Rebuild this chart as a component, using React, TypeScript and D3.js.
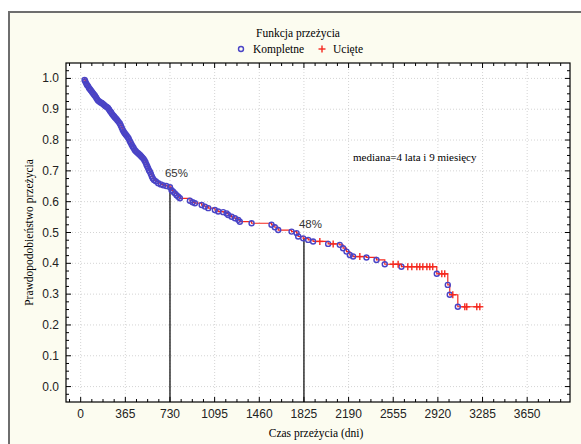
import * as d3 from 'd3'

// Kaplan-Meier estimate
const startDay = 28
const eventDays = [
  32, 38, 45, 52, 60, 68, 76, 84, 93, 102, 110, 118, 127, 135, 142, 152, 163, 172, 182, 192,
  203, 213, 223, 232, 240, 248, 256, 264, 272, 280, 290, 300, 310, 320, 328, 336, 344, 352, 360, 368,
  376, 385, 393, 401, 409, 417, 425, 433, 442, 451, 460, 469, 478, 487, 496, 505, 514, 522, 530, 537,
  544, 551, 558, 566, 574, 582, 590, 600, 615, 634, 655, 675, 700, 730, 743, 756, 770, 784, 798, 811,
  893, 915, 934, 989, 1016, 1043, 1097, 1124, 1165, 1193, 1206, 1234, 1261, 1288, 1301, 1397, 1560, 1587, 1615, 1724,
  1765, 1778, 1819, 1860, 1900, 2023, 2118, 2145, 2173, 2200, 2227, 2336, 2418, 2486, 2622, 2911, 3001, 3017, 3083,
]
const eventSurv = [
  0.995, 0.99, 0.984, 0.979, 0.975, 0.969, 0.965, 0.961, 0.956, 0.951, 0.947, 0.943, 0.937, 0.932, 0.928, 0.925, 0.922, 0.92, 0.917, 0.914,
  0.91, 0.907, 0.904, 0.899, 0.894, 0.89, 0.885, 0.881, 0.877, 0.873, 0.869, 0.864, 0.859, 0.854, 0.847, 0.84, 0.833, 0.827, 0.822, 0.818,
  0.814, 0.809, 0.804, 0.797, 0.791, 0.785, 0.779, 0.774, 0.768, 0.764, 0.76, 0.757, 0.754, 0.751, 0.747, 0.743, 0.739, 0.734, 0.728, 0.721,
  0.715, 0.709, 0.702, 0.697, 0.69, 0.682, 0.675, 0.67, 0.666, 0.66, 0.656, 0.653, 0.651, 0.647, 0.637, 0.632, 0.627, 0.621, 0.616, 0.611,
  0.603, 0.598, 0.595, 0.589, 0.584, 0.579, 0.573, 0.568, 0.566, 0.562, 0.557, 0.551, 0.546, 0.541, 0.535, 0.53, 0.525, 0.517, 0.508, 0.503,
  0.498, 0.487, 0.481, 0.476, 0.471, 0.463, 0.46, 0.449, 0.438, 0.427, 0.422, 0.419, 0.411, 0.397, 0.389, 0.366, 0.33, 0.298, 0.259,
]
const censorDays = [
  1955, 2064, 2282, 2554, 2595, 2674, 2707, 2748, 2772, 2797, 2830, 2854, 2878, 2952, 2976, 3042, 3140, 3156, 3238, 3263,
]
const markedDays = [730, 1825]
const markedLabels = ['65%', '48%']

const xTicks = [0, 365, 730, 1095, 1460, 1825, 2190, 2555, 2920, 3285, 3650]
const yTicks = [0, 0.1, 0.2, 0.3, 0.4, 0.5, 0.6, 0.7, 0.8, 0.9, 1.0]

const W = 581
const H = 444
const plot = { left: 66, top: 63, right: 570, bottom: 402 }

const serif = '"Liberation Serif", "DejaVu Serif", serif'
const sans = '"Liberation Sans", Arial, sans-serif'

function survAt(day: number) {
  const i = d3.bisectRight(eventDays, day) - 1
  return i < 0 ? 1 : eventSurv[i]
}

export default function App() {
  const x = d3.scaleLinear().domain([-120, 4000]).range([plot.left, plot.right])
  const y = d3.scaleLinear().domain([-0.05, 1.05]).range([plot.bottom, plot.top])

  const lastDay = censorDays[censorDays.length - 1]
  const stepPts: [number, number][] = [
    [startDay, 1],
    ...eventDays.map((d, i) => [d, eventSurv[i]] as [number, number]),
    [lastDay, survAt(lastDay)],
  ]
  const line = d3.line<[number, number]>()
    .x(d => x(d[0]))
    .y(d => y(d[1]))
    .curve(d3.curveStepAfter)

  const xMinor = d3.range(-91.25, 4000, 91.25)
  const yMinor = d3.range(-0.025, 1.05, 0.025)

  const blue = '#4a44c6'
  const red = '#f5281e'

  const plus = (cx: number, cy: number, k: string) => (
    <g key={k} stroke={red} strokeWidth={1.4}>
      <line x1={cx - 3.5} x2={cx + 3.5} y1={cy} y2={cy} />
      <line x1={cx} x2={cx} y1={cy - 3.5} y2={cy + 3.5} />
    </g>
  )

  return (
    <svg width={W} height={H} style={{ position: 'absolute', left: 0, top: 0 }}>
      <rect x={0} y={0} width={W} height={H} fill="#ffffff" />
      <rect x={9} y={12} width={W} height={H} fill="#fcfcf0" stroke="#6e6e6e" strokeWidth={2} />

      {/* legend */}
      <text x={298} y={37} textAnchor="middle" fontFamily={serif} fontSize={11.5}>Funkcja przeżycia</text>
      <circle cx={241} cy={49} r={2.5} fill="none" stroke={blue} strokeWidth={1.4} />
      <text x={253} y={53} fontFamily={serif} fontSize={11.5}>Kompletne</text>
      {plus(322, 49, 'lg')}
      <text x={333} y={53} fontFamily={serif} fontSize={11.5}>Ucięte</text>

      <rect x={plot.left} y={plot.top} width={plot.right - plot.left} height={plot.bottom - plot.top} fill="#fff" />

      {/* grid */}
      <g stroke="#c9c9c9" strokeWidth={0.8} strokeDasharray="1,2">
        {xTicks.map(t => <line key={'gx' + t} x1={x(t)} x2={x(t)} y1={plot.top} y2={plot.bottom} />)}
        {yTicks.map(t => <line key={'gy' + t} x1={plot.left} x2={plot.right} y1={y(t)} y2={y(t)} />)}
      </g>

      {/* ticks, inside on all sides */}
      <g stroke="#000" strokeWidth={1}>
        {xMinor.map(t => {
          const major = xTicks.some(m => Math.abs(m - t) < 1)
          const len = major ? 5 : 3
          return (
            <g key={'tx' + t}>
              <line x1={x(t)} x2={x(t)} y1={plot.bottom} y2={plot.bottom - len} />
              <line x1={x(t)} x2={x(t)} y1={plot.top} y2={plot.top + len} />
            </g>
          )
        })}
        {yMinor.map(t => {
          const major = yTicks.some(m => Math.abs(m - t) < 0.001)
          const len = major ? 5 : 3
          return (
            <g key={'ty' + t}>
              <line x1={plot.left} x2={plot.left + len} y1={y(t)} y2={y(t)} />
              <line x1={plot.right} x2={plot.right - len} y1={y(t)} y2={y(t)} />
            </g>
          )
        })}
      </g>

      {/* median markers */}
      {markedDays.map(d => (
        <line key={'m' + d} x1={x(d)} x2={x(d)} y1={plot.bottom} y2={y(survAt(d))} stroke="#111" strokeWidth={1.3} />
      ))}

      <path d={line(stepPts) ?? ''} fill="none" stroke={red} strokeWidth={1.2} />
      {eventDays.map((d, i) => (
        <circle key={'e' + i} cx={x(d)} cy={y(eventSurv[i])} r={2.5} fill="none" stroke={blue} strokeWidth={1.4} />
      ))}
      {censorDays.map((d, i) => plus(x(d), y(survAt(d)), 'c' + i))}

      <rect x={plot.left} y={plot.top} width={plot.right - plot.left} height={plot.bottom - plot.top} fill="none" stroke="#000" strokeWidth={1.2} />

      {/* tick labels */}
      {yTicks.map(t => (
        <text key={'ly' + t} x={59} y={y(t) + 4} textAnchor="end" fontFamily={sans} fontSize={12} fill="#222">{t.toFixed(1)}</text>
      ))}
      {xTicks.map(t => (
        <text key={'lx' + t} x={x(t)} y={418} textAnchor="middle" fontFamily={sans} fontSize={12} fill="#222">{t}</text>
      ))}

      <text x={316} y={437} textAnchor="middle" fontFamily={serif} fontSize={11.5}>Czas przeżycia (dni)</text>
      <text transform={`translate(33,${(plot.top + plot.bottom) / 2}) rotate(-90)`} textAnchor="middle" fontFamily={serif} fontSize={11.5}>Prawdopodobieństwo przeżycia</text>

      {markedDays.map((d, i) => (
        <text key={'ml' + d} x={x(d) - 5} y={y(survAt(d)) - 10} fontFamily={sans} fontSize={11.5} fill="#333">{markedLabels[i]}</text>
      ))}
      <text x={353} y={161} fontFamily={serif} fontSize={11}>mediana=4 lata i 9 miesięcy</text>
    </svg>
  )
}
